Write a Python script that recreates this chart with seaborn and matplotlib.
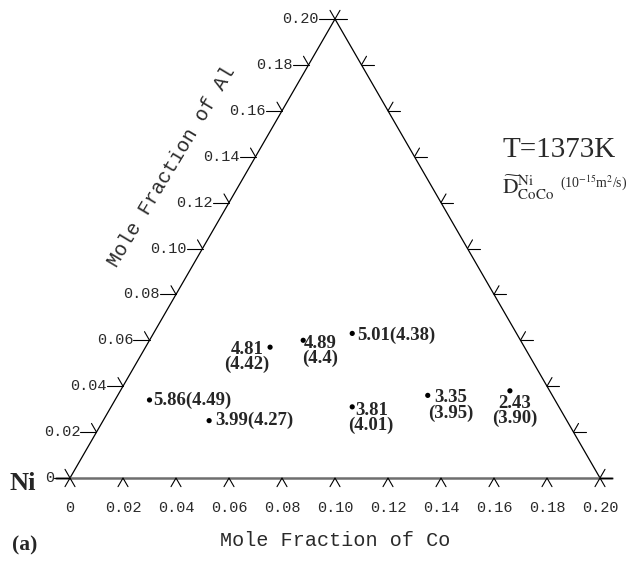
import numpy as np
import matplotlib
matplotlib.use("Agg")
import matplotlib.pyplot as plt
import seaborn as sns
import pandas as pd

# ---- data ----
co_frac = [0.013, 0.040, 0.047, 0.058, 0.075, 0.091, 0.117, 0.147]
al_frac = [0.034, 0.025, 0.057, 0.060, 0.063, 0.031, 0.036, 0.038]
d_exp = ["5.86", "3.99", "4.81", "4.89", "5.01", "3.81", "3.35", "2.43"]
d_calc = ["4.49", "4.27", "4.42", "4.4", "4.38", "4.01", "3.95", "3.90"]
tick_values = [0.0, 0.02, 0.04, 0.06, 0.08, 0.10, 0.12, 0.14, 0.16, 0.18, 0.20]
tick_labels = ["0", "0.02", "0.04", "0.06", "0.08", "0.10", "0.12", "0.14", "0.16", "0.18", "0.20"]

# label layout (offset pixels, alignment, two-line?)
label_layout = [
    (4, 0, "left", False),
    (6, 0, "left", False),
    (-23, -10, "center", True),
    (17, -11, "center", True),
    (5, -2, "left", False),
    (19, -11, "center", True),
    (23, -10, "center", True),
    (5, -20, "center", True),
]

sns.set_style("white")
plt.rcParams["font.family"] = ["Liberation Serif", "DejaVu Sans"]
plt.rcParams["mathtext.fontset"] = "stix"

S3 = np.sqrt(3) / 2
PX = 1 / 2650.0  # data units per pixel


def tern(co, al):
    co = np.asarray(co, float)
    al = np.asarray(al, float)
    return co + al / 2, al * S3


fig = plt.figure(figsize=(6.33, 5.61), dpi=100)
ax = fig.add_axes([0, 0, 1, 1])
ax.set_xlim(-70 * PX, 563 * PX)
ax.set_ylim(-83 * PX, 478 * PX)
ax.axis("off")

MONO = "Liberation Mono"
TXT = "#2a2a2a"

# triangle edges
bl = tern(0, 0)
br = tern(0.2, 0)
tp = tern(0, 0.2)
ax.plot([bl[0], tp[0], br[0]], [bl[1], tp[1], br[1]], color="black", lw=0.9,
        solid_capstyle="butt", zorder=2)
# bottom axis (gray, thicker), extends slightly past vertices
ax.plot([bl[0] - 14 * PX, br[0] + 12 * PX], [0, 0], color="#6e6e6e", lw=1.8, zorder=2)

# ticks
Lb = 10 * PX
LhL = 16 * PX
LhR = 12 * PX
Ld = 10 * PX
c60 = 0.5
for v, lab in zip(tick_values, tick_labels):
    # bottom (Co) ticks
    x, y = tern(v, 0)
    ax.plot([x - Lb * c60, x, x + Lb * c60], [y - Lb * S3, y, y - Lb * S3],
            color="black", lw=0.8, zorder=3)
    ax.text(x, y - 30 * PX, lab, ha="center", va="center", family=MONO,
            fontsize=11, color=TXT)
    # left (Al) ticks
    x, y = tern(0, v)
    ax.plot([x - LhL, x], [y, y], color="black", lw=0.8, zorder=3)
    ax.plot([x, x - Ld * c60], [y, y + Ld * S3], color="black", lw=0.8, zorder=3)
    ax.text(x - LhL, y, lab, ha="right", va="center", family=MONO,
            fontsize=11, color=TXT)
    # right ticks
    x, y = tern(0.2 - v, v)
    ax.plot([x, x + LhR], [y, y], color="black", lw=0.8, zorder=3)
    ax.plot([x, x + Ld * c60], [y, y + Ld * S3], color="black", lw=0.8, zorder=3)

# axis titles
ax.text(0.1, -62 * PX, "Mole Fraction of Co", ha="center", va="center",
        family=MONO, fontsize=14.5, color=TXT)
ax.text((172 - 70) * PX, (478 - 166) * PX, "Mole Fraction of Al", ha="center",
        va="center", family=MONO, fontsize=14.5, color=TXT, rotation=59,
        rotation_mode="anchor")

ax.text(-47 * PX, -5 * PX, "Ni", ha="center", va="center", fontsize=19,
        fontweight="bold", family="Liberation Serif")
ax.text(-45 * PX, -67 * PX, "(a)", ha="center", va="center", fontsize=15.5,
        fontweight="bold", family="Liberation Serif")

ax.text((503 - 70) * PX, (478 - 150) * PX, "T=1373K", ha="left", va="center",
        fontsize=21, family="Liberation Serif", color=TXT)
ax.text((502 - 70) * PX, (478 - 188) * PX,
        r"$\widetilde{\mathrm{D}}^{\mathrm{Ni}}_{\mathrm{CoCo}}$",
        ha="left", va="center", fontsize=15.5, color=TXT)
ax.text((560 - 70) * PX, (478 - 183) * PX,
        r"(10$^{\mathrm{-15}}$m$^{\mathrm{2}}$/s)", ha="left", va="center",
        fontsize=10, color=TXT)

# data points
px_, py_ = tern(co_frac, al_frac)
df = pd.DataFrame({"x": px_, "y": py_, "exp": d_exp, "calc": d_calc})
sns.scatterplot(data=df, x="x", y="y", ax=ax, color="black", s=14,
                edgecolor="none", zorder=4, legend=False)
ax.set_xlabel("")
ax.set_ylabel("")
ax.axis("off")

for (xx, yy, e, c), (dx, dy, ha, two) in zip(df[["x", "y", "exp", "calc"]].values,
                                             label_layout):
    txt = f"{e}\n({c})" if two else f"{e}({c})"
    ax.annotate(txt, (xx, yy), xytext=(dx, dy), textcoords="offset pixels",
                ha=ha, va="center", fontsize=13.5, fontweight="bold",
                linespacing=0.85, family="Liberation Serif", multialignment="center")

fig.savefig("out.png", dpi=100)
